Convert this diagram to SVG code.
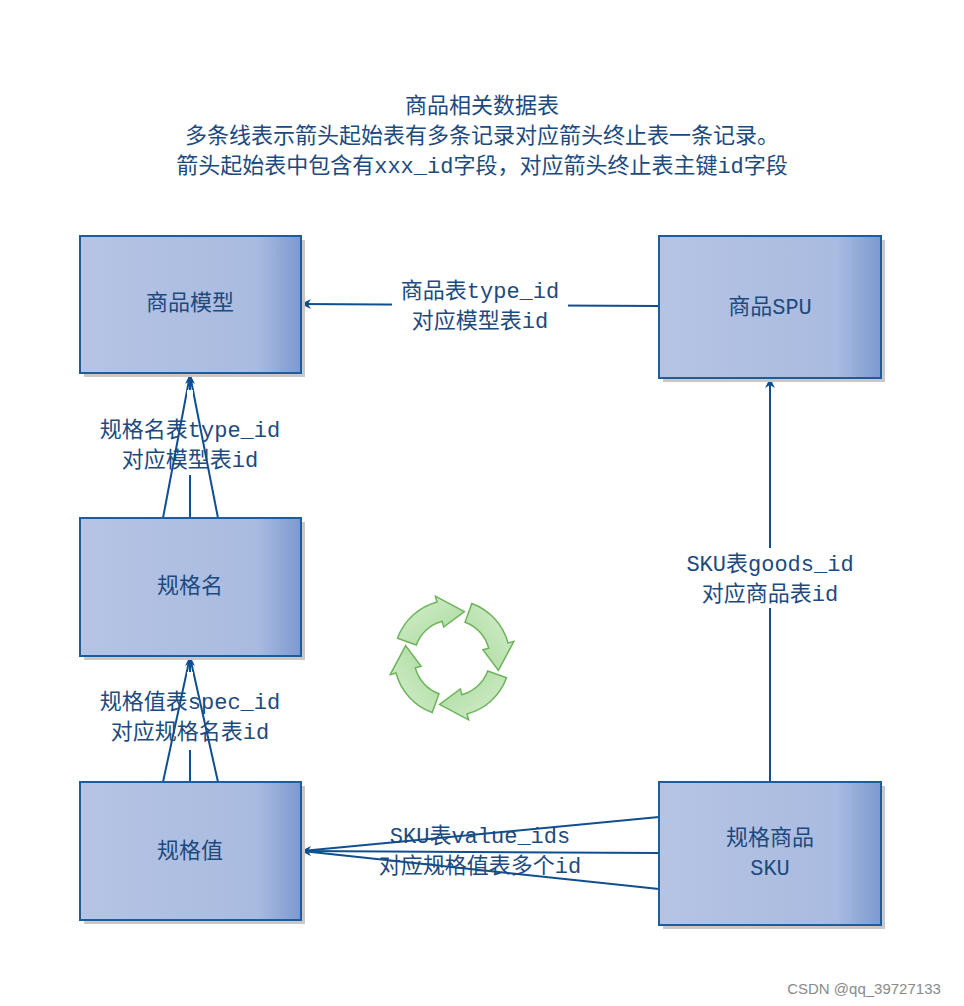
<svg xmlns="http://www.w3.org/2000/svg" width="964" height="1006" viewBox="0 0 964 1006">
<defs>
<linearGradient id="g" x1="0" y1="0" x2="1" y2="0">
<stop offset="0" stop-color="#b6c4e4"/><stop offset="0.8" stop-color="#a9bbe0"/><stop offset="1" stop-color="#7d99d0"/>
</linearGradient>
<linearGradient id="gg" x1="0" y1="0" x2="1" y2="1">
<stop offset="0" stop-color="#d6efd0"/><stop offset="1" stop-color="#a8d99a"/>
</linearGradient>
<marker id="ah" viewBox="0 0 10 10" refX="9" refY="5" markerWidth="10" markerHeight="10" markerUnits="userSpaceOnUse" orient="auto">
<path d="M0,0 L10,5 L0,10 L3,5 Z" fill="#0f4f8f"/>
</marker>
<path id="arr" d="M -54.5,-19.8 A58 58 0 0 1 -15,-56 L -16.6,-61.8 L 12.4,-46.4 L -8.3,-30.9 L -9.8,-36.7 A38 38 0 0 0 -35.7,-13 Z"/>
</defs>
<style>
text{font-family:"Liberation Mono","Noto Sans CJK SC",monospace;fill:#1d4a7e;font-size:22px;text-anchor:middle}
.box{fill:url(#g);stroke:#1e5c9c;stroke-width:2}
.sh{fill:#c8c8c8}
.c{stroke:#0f4f8f;stroke-width:2;fill:none}
.bg{fill:#fff}
.ar{fill:url(#gg);stroke:#6db35a;stroke-width:1.5}
</style>
<rect width="964" height="1006" fill="#fff"/>
<g id="title">
<text x="482" y="113">商品相关数据表</text>
<text x="482" y="143">多条线表示箭头起始表有多条记录对应箭头终止表一条记录。</text>
<text x="482" y="173">箭头起始表中包含有xxx_id字段，对应箭头终止表主键id字段</text>
</g>
<g id="connectors">
<line class="c" x1="659" y1="306" x2="302" y2="304" marker-end="url(#ah)"/>
<rect class="bg" x="392" y="279" width="176" height="54"/>
<text x="480" y="298">商品表type_id</text>
<text x="480" y="328">对应模型表id</text>
<line class="c" x1="163" y1="518" x2="190" y2="375"/>
<line class="c" x1="218" y1="518" x2="190" y2="375"/>
<line class="c" x1="190" y1="518" x2="190" y2="375" marker-end="url(#ah)"/>
<rect class="bg" x="187" y="390" width="6" height="85"/>
<text x="190" y="437">规格名表type_id</text>
<text x="190" y="467">对应模型表id</text>
<line class="c" x1="163" y1="782" x2="190" y2="657"/>
<line class="c" x1="218" y1="782" x2="190" y2="657"/>
<line class="c" x1="190" y1="782" x2="190" y2="657" marker-end="url(#ah)"/>
<rect class="bg" x="187" y="672" width="6" height="78"/>
<text x="190" y="709">规格值表spec_id</text>
<text x="190" y="739">对应规格名表id</text>
<line class="c" x1="659" y1="817" x2="302" y2="851"/>
<line class="c" x1="659" y1="889" x2="302" y2="851"/>
<line class="c" x1="659" y1="853" x2="302" y2="851" marker-end="url(#ah)"/>
<text x="480" y="843">SKU表value_ids</text>
<text x="480" y="873">对应规格值表多个id</text>
<line class="c" x1="770" y1="782" x2="770" y2="379" marker-end="url(#ah)"/>
<rect class="bg" x="680" y="548" width="180" height="60"/>
<text x="770" y="571">SKU表goods_id</text>
<text x="770" y="601">对应商品表id</text>
</g>
<g id="n1"><rect class="sh" x="84" y="240" width="221" height="137"/><rect class="box" x="80" y="236" width="221" height="137"/><text x="190" y="310">商品模型</text></g>
<g id="n2"><rect class="sh" x="84" y="522" width="221" height="138"/><rect class="box" x="80" y="518" width="221" height="138"/><text x="190" y="593">规格名</text></g>
<g id="n3"><rect class="sh" x="84" y="786" width="221" height="138"/><rect class="box" x="80" y="782" width="221" height="138"/><text x="190" y="858">规格值</text></g>
<g id="n4"><rect class="sh" x="663" y="240" width="222" height="142"/><rect class="box" x="659" y="236" width="222" height="142"/><text x="770" y="314">商品SPU</text></g>
<g id="n5"><rect class="sh" x="663" y="786" width="222" height="143"/><rect class="box" x="659" y="782" width="222" height="143"/><text x="770" y="845">规格商品</text><text x="770" y="875">SKU</text></g>
<g id="cycle" transform="translate(452,658)">
<use href="#arr" class="ar"/>
<use href="#arr" class="ar" transform="rotate(90)"/>
<use href="#arr" class="ar" transform="rotate(180)"/>
<use href="#arr" class="ar" transform="rotate(270)"/>
</g>
<text x="864" y="994" style="font-family:'Liberation Sans','Noto Sans CJK SC',sans-serif;font-size:15px;fill:#8a8a8a">CSDN @qq_39727133</text>
</svg>
